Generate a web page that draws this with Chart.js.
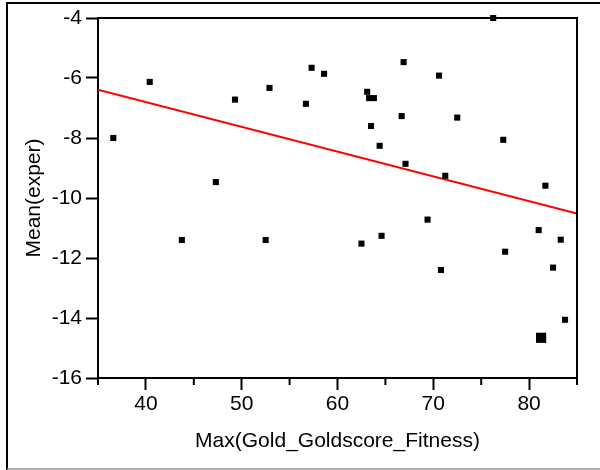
<!DOCTYPE html>
<html>
<head>
<meta charset="utf-8">
<script src="https://cdn.jsdelivr.net/npm/chart.js@4/dist/chart.umd.min.js"></script>
<style>
  body { margin: 0; background: #fff; }
  canvas { display: block; }
</style>
</head>
<body>
<canvas id="chart" width="600" height="470"></canvas>
<script>
// data
const goldMax = [36.6, 40.4, 43.75, 47.3, 49.3, 52.5, 52.9, 56.7, 57.3, 58.6, 62.5, 63.1, 63.3, 63.5, 63.8, 64.4, 64.6,
    66.7, 66.9, 67.1, 69.4, 70.6, 70.8, 71.25, 72.5, 76.25, 77.3, 77.5, 81.0, 81.25, 81.7, 82.5, 83.3, 83.75];
const meanExper = [-8.0, -6.13, -11.4, -9.47, -6.72, -11.4, -6.33, -6.86, -5.66, -5.86, -11.52, -6.46, -6.67, -7.6, -6.67, -8.26, -11.26,
    -7.27, -5.47, -8.86, -10.72, -5.92, -12.4, -9.26, -7.32, -4.0, -8.06, -11.79, -11.07, -14.66, -9.59, -12.32, -11.39, -14.06];
// rows sharing one marker (bigger square)
const rowCount = [1, 1, 1, 1, 1, 1, 1, 1, 1, 1, 1, 1, 1, 1, 1, 1, 1,
    1, 1, 1, 1, 1, 1, 1, 1, 1, 1, 1, 1, 2, 1, 1, 1, 1];
// fitted line ends
const fitX = [35, 85];
const fitY = [-6.39, -10.52];

const xTicks = [35, 40, 45, 50, 55, 60, 65, 70, 75, 80, 85];
const yTicks = [-16, -14, -12, -10, -8, -6, -4];

Chart.defaults.font.family = "'Liberation Sans', Arial, sans-serif";
Chart.defaults.font.size = 21;
Chart.defaults.color = '#000';

const points = goldMax.map((x, i) => ({x: x, y: meanExper[i]}));
const fit = fitX.map((x, i) => ({x: x, y: fitY[i]}));

// outer frame, closed plot box and the short x ticks
const framePlugin = {
    id: 'frame',
    beforeDraw(chart) {
        const c = chart.ctx;
        c.save();
        c.strokeStyle = '#000';
        c.lineWidth = 2;
        c.beginPath();
        c.moveTo(7, 470);
        c.lineTo(7, 3);
        c.lineTo(600, 3);
        c.stroke();
        c.strokeStyle = '#999';
        c.lineWidth = 1.5;
        c.beginPath();
        c.moveTo(7, 469);
        c.lineTo(600, 469);
        c.stroke();
        c.restore();
    },
    afterDraw(chart) {
        const c = chart.ctx;
        const a = chart.chartArea;
        const xs = chart.scales.x;
        c.save();
        c.strokeStyle = '#000';
        c.lineWidth = 2;
        c.beginPath();
        c.moveTo(a.left, a.top);
        c.lineTo(a.right, a.top);
        c.lineTo(a.right, a.bottom);
        c.stroke();
        xTicks.filter(v => v % 10 !== 0).forEach(v => {
            const px = xs.getPixelForValue(v);
            c.beginPath();
            c.moveTo(px, a.bottom);
            c.lineTo(px, a.bottom + 7);
            c.stroke();
        });
        c.restore();
    }
};

new Chart(document.getElementById('chart'), {
    type: 'scatter',
    data: {
        datasets: [{
            label: 'Mean(exper)',
            data: points,
            pointStyle: 'rect',
            pointRadius: ctx => rowCount[ctx.dataIndex] > 1 ? 7.2 : 4.3,
            pointBackgroundColor: '#000',
            pointBorderWidth: 0,
            clip: false,
            order: 0
        }, {
            type: 'line',
            label: 'fit',
            data: fit,
            borderColor: '#ff0000',
            borderWidth: 2,
            pointRadius: 0,
            fill: false,
            order: 1
        }]
    },
    options: {
        responsive: false,
        animation: false,
        layout: {padding: {top: 18, right: 23, left: 0, bottom: 0}},
        plugins: {legend: {display: false}, tooltip: {enabled: false}},
        scales: {
            x: {
                type: 'linear',
                min: 35,
                max: 85,
                afterBuildTicks: s => { s.ticks = xTicks.map(v => ({value: v})); },
                afterFit: s => { s.height = 92; },
                border: {display: true, color: '#000', width: 2},
                grid: {
                    drawOnChartArea: false,
                    tickLength: 12,
                    tickWidth: 2,
                    tickColor: ctx => ctx.tick && ctx.tick.value % 10 === 0 ? '#000' : 'rgba(0,0,0,0)'
                },
                ticks: {
                    autoSkip: false,
                    maxRotation: 0,
                    padding: 2,
                    callback: v => v % 10 === 0 ? v : ''
                },
                title: {
                    display: true,
                    text: 'Max(Gold_Goldscore_Fitness)',
                    font: {size: 21},
                    padding: {top: 0, bottom: 16}
                }
            },
            y: {
                min: -16,
                max: -4,
                afterBuildTicks: s => { s.ticks = yTicks.map(v => ({value: v})); },
                afterFit: s => { s.width = 98; },
                border: {display: true, color: '#000', width: 2},
                grid: {drawOnChartArea: false, tickLength: 12, tickWidth: 2, tickColor: '#000'},
                ticks: {padding: 4},
                title: {
                    display: true,
                    text: 'Mean(exper)',
                    font: {size: 21},
                    padding: {top: 22, bottom: 0}
                }
            }
        }
    },
    plugins: [framePlugin]
});
</script>
</body>
</html>
